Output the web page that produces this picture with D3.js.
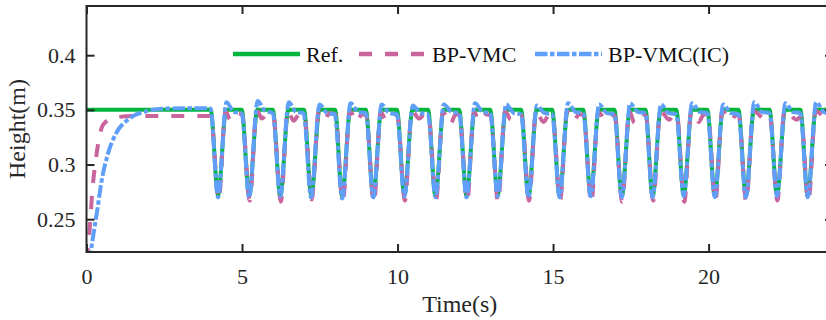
<!DOCTYPE html>
<html>
<head>
<meta charset="utf-8">
<script src="https://cdn.jsdelivr.net/npm/d3@7"></script>
<style>
  body { margin: 0; background: #fff; }
  svg { display: block; }
  text { font-family: "Liberation Serif", serif; }
</style>
</head>
<body>
<svg id="chart"></svg>
<script>
const xTicks = [0, 5, 10, 15, 20];
const yTicks = [0.25, 0.3, 0.35, 0.4];
const seriesNames = ["Ref.", "BP-VMC", "BP-VMC(IC)"];

// reference height, [time, height]
const refPoints = [
    [0, 0.35], [3.99, 0.35], [4.23, 0.272], [4.49, 0.35],
    [4.99, 0.35], [5.23, 0.271], [5.49, 0.35],
    [5.99, 0.35], [6.23, 0.271], [6.49, 0.35],
    [6.99, 0.35], [7.23, 0.272], [7.49, 0.35],
    [7.99, 0.35], [8.22, 0.271], [8.48, 0.35],
    [8.98, 0.35], [9.22, 0.271], [9.48, 0.35],
    [9.98, 0.35], [10.22, 0.272], [10.48, 0.35],
    [10.98, 0.35], [11.22, 0.271], [11.48, 0.35],
    [11.98, 0.35], [12.22, 0.271], [12.48, 0.35],
    [12.98, 0.35], [13.22, 0.272], [13.48, 0.35],
    [13.97, 0.35], [14.21, 0.271], [14.47, 0.35],
    [14.97, 0.35], [15.21, 0.271], [15.47, 0.35],
    [15.97, 0.35], [16.21, 0.272], [16.47, 0.35],
    [16.97, 0.35], [17.21, 0.271], [17.47, 0.35],
    [17.97, 0.35], [18.2, 0.271], [18.46, 0.35],
    [18.96, 0.35], [19.2, 0.272], [19.46, 0.35],
    [19.96, 0.35], [20.2, 0.271], [20.46, 0.35],
    [20.96, 0.35], [21.2, 0.271], [21.46, 0.35],
    [21.96, 0.35], [22.2, 0.272], [22.46, 0.35],
    [22.95, 0.35], [23.19, 0.271], [23.45, 0.35],
    [24, 0.35]
];

// BP-VMC
const bpPoints = [
    [0, 0.212], [0.06, 0.2265], [0.13, 0.252], [0.19, 0.277], [0.29, 0.302],
    [0.39, 0.322], [0.55, 0.337], [0.9, 0.343], [1.5, 0.3443], [3.97, 0.3443],
    [4.01, 0.343], [4.25, 0.268], [4.47, 0.349], [4.62, 0.341], [4.8, 0.347],
    [5.0, 0.346], [5.25, 0.267], [5.47, 0.35], [5.64, 0.342], [5.82, 0.347],
    [6.0, 0.346], [6.25, 0.266], [6.47, 0.349], [6.66, 0.34], [6.84, 0.346],
    [7.0, 0.345], [7.24, 0.268], [7.47, 0.349], [7.64, 0.341], [7.82, 0.347],
    [8.0, 0.346], [8.24, 0.266], [8.47, 0.349], [8.68, 0.339], [8.86, 0.346],
    [8.99, 0.345], [9.24, 0.265], [9.46, 0.348], [9.62, 0.341], [9.82, 0.346],
    [9.99, 0.345], [10.24, 0.267], [10.46, 0.349], [10.7, 0.342], [10.86, 0.346],
    [10.99, 0.345], [11.24, 0.268], [11.46, 0.348], [11.7, 0.337], [11.87, 0.346],
    [11.99, 0.345], [12.24, 0.267], [12.46, 0.349], [12.6, 0.34], [12.8, 0.346],
    [12.99, 0.345], [13.23, 0.266], [13.46, 0.349], [13.64, 0.341], [13.82, 0.346],
    [13.99, 0.345], [14.23, 0.267], [14.45, 0.348], [14.7, 0.339], [14.86, 0.345],
    [14.98, 0.345], [15.23, 0.268], [15.45, 0.349], [15.66, 0.34], [15.84, 0.346],
    [15.98, 0.345], [16.23, 0.265], [16.45, 0.348], [16.72, 0.34], [16.87, 0.345],
    [16.98, 0.345], [17.22, 0.266], [17.45, 0.349], [17.62, 0.338], [17.82, 0.346],
    [17.98, 0.345], [18.22, 0.267], [18.45, 0.349], [18.74, 0.341], [18.87, 0.345],
    [18.98, 0.345], [19.22, 0.266], [19.44, 0.348], [19.68, 0.339], [19.85, 0.346],
    [19.98, 0.345], [20.22, 0.267], [20.44, 0.349], [20.72, 0.34], [20.87, 0.345],
    [20.97, 0.345], [21.21, 0.266], [21.44, 0.349], [21.84, 0.341],
    [21.97, 0.344], [22.21, 0.267], [22.44, 0.349], [22.84, 0.341],
    [22.97, 0.344], [23.21, 0.266], [23.44, 0.349], [23.84, 0.341], [23.98, 0.344]
];

// BP-VMC(IC)
const icPoints = [
    [0, 0.19], [0.16, 0.2245], [0.35, 0.259], [0.48, 0.284], [0.68, 0.309],
    [0.96, 0.329], [1.38, 0.342], [1.96, 0.349], [2.6, 0.3512], [3.95, 0.3515],
    [3.99, 0.351], [4.23, 0.27], [4.5, 0.357], [4.74, 0.348],
    [4.99, 0.347], [5.23, 0.27], [5.5, 0.358], [5.74, 0.349],
    [5.99, 0.347], [6.23, 0.271], [6.5, 0.357], [6.74, 0.348],
    [6.98, 0.347], [7.22, 0.27], [7.49, 0.355], [7.74, 0.347],
    [7.98, 0.346], [8.22, 0.269], [8.49, 0.356], [8.74, 0.348],
    [8.98, 0.347], [9.22, 0.27], [9.49, 0.355], [9.74, 0.347],
    [9.98, 0.346], [10.22, 0.271], [10.49, 0.354], [10.74, 0.347],
    [10.98, 0.346], [11.22, 0.27], [11.49, 0.355], [11.74, 0.348],
    [11.98, 0.347], [12.22, 0.27], [12.49, 0.356], [12.74, 0.348],
    [12.98, 0.347], [13.22, 0.271], [13.49, 0.355], [13.74, 0.347],
    [13.97, 0.346], [14.21, 0.27], [14.48, 0.354], [14.73, 0.347],
    [14.97, 0.346], [15.21, 0.27], [15.48, 0.356], [15.73, 0.348],
    [15.97, 0.347], [16.21, 0.271], [16.48, 0.355], [16.73, 0.347],
    [16.97, 0.346], [17.21, 0.27], [17.48, 0.356], [17.73, 0.348],
    [17.97, 0.347], [18.2, 0.27], [18.47, 0.355], [18.72, 0.347],
    [18.96, 0.346], [19.2, 0.271], [19.47, 0.356], [19.72, 0.348],
    [19.96, 0.347], [20.2, 0.27], [20.47, 0.355], [20.72, 0.347],
    [20.96, 0.346], [21.2, 0.27], [21.47, 0.357], [21.72, 0.348],
    [21.96, 0.347], [22.2, 0.271], [22.47, 0.356], [22.72, 0.348],
    [22.95, 0.347], [23.19, 0.27], [23.46, 0.357], [23.71, 0.348], [23.98, 0.346]
];

const width = 826;
const height = 320;
const plot = {left: 86.5, right: 833, top: 6, bottom: 252};
const axisColor = "#262626";
const fontFamily = "Liberation Serif, serif";

const svg = d3.select("#chart")
    .attr("width", width)
    .attr("height", height)
    .attr("font-family", fontFamily);

const x = d3.scaleLinear()
    .domain([0, 24])
    .range([plot.left, plot.right]);

const y = d3.scaleLinear()
    .domain([0.22, 0.445])
    .range([plot.bottom, plot.top]);

svg.append("clipPath")
    .attr("id", "plotClip")
    .append("rect")
        .attr("x", plot.left)
        .attr("y", plot.top)
        .attr("width", plot.right - plot.left)
        .attr("height", plot.bottom - plot.top);

const series = [
    {name: seriesNames[0], points: refPoints, color: "#00b53c", dash: null},
    {name: seriesNames[1], points: bpPoints, color: "#c9649c", dash: "13,13"},
    {name: seriesNames[2], points: icPoints, color: "#5f9ffa", dash: "12.5,2.5,4.5,2.5"}
];

const line = d3.line()
    .x(d => x(d[0]))
    .y(d => y(d[1]))
    .curve(d3.curveMonotoneX);

svg.append("g")
    .attr("clip-path", "url(#plotClip)")
    .selectAll("path")
    .data(series)
    .join("path")
        .attr("d", d => line(d.points))
        .attr("fill", "none")
        .attr("stroke", d => d.color)
        .attr("stroke-width", 4)
        .attr("stroke-dasharray", d => d.dash);

// axes with inward ticks
function styleAxis(g) {
    g.attr("font-family", fontFamily).attr("font-size", 22);
    g.select(".domain").remove();
    g.selectAll(".tick line").attr("stroke", axisColor).attr("stroke-width", 2);
    g.selectAll(".tick text").attr("fill", axisColor);
}

svg.append("g")
    .attr("transform", "translate(0," + plot.bottom + ")")
    .call(d3.axisBottom(x).tickValues(xTicks).tickSizeInner(-8).tickSizeOuter(0).tickPadding(16))
    .call(styleAxis);

svg.append("g")
    .attr("transform", "translate(0," + plot.top + ")")
    .call(d3.axisTop(x).tickValues(xTicks).tickSizeInner(-8).tickSizeOuter(0).tickFormat(""))
    .call(styleAxis);

svg.append("g")
    .attr("transform", "translate(" + plot.left + ",0)")
    .call(d3.axisLeft(y).tickValues(yTicks).tickSizeInner(-8).tickSizeOuter(0).tickPadding(11).tickFormat(d => String(d)))
    .call(styleAxis);

svg.append("g")
    .attr("transform", "translate(" + plot.right + ",0)")
    .call(d3.axisRight(y).tickValues(yTicks).tickSizeInner(-8).tickSizeOuter(0).tickFormat(""))
    .call(styleAxis);

svg.append("rect")
    .attr("x", plot.left)
    .attr("y", plot.top)
    .attr("width", plot.right - plot.left)
    .attr("height", plot.bottom - plot.top)
    .attr("fill", "none")
    .attr("stroke", axisColor)
    .attr("stroke-width", 2);

// legend
const legendX = [233, 359, 535];
const legend = svg.append("g")
    .selectAll("g")
    .data(series)
    .join("g")
        .attr("transform", (d, i) => "translate(" + legendX[i] + ",54)");

legend.append("line")
    .attr("x1", 0)
    .attr("x2", 67)
    .attr("stroke", d => d.color)
    .attr("stroke-width", 4.5)
    .attr("stroke-dasharray", d => d.dash);

legend.append("text")
    .attr("x", 73)
    .attr("y", 8)
    .attr("fill", "#111")
    .attr("font-size", 22)
    .text(d => d.name);

svg.append("text")
    .attr("x", (plot.left + plot.right) / 2)
    .attr("y", 312)
    .attr("text-anchor", "middle")
    .attr("fill", axisColor)
    .attr("font-size", 24)
    .text("Time(s)");

svg.append("text")
    .attr("transform", "translate(25," + (plot.top + plot.bottom) / 2 + ")rotate(-90)")
    .attr("text-anchor", "middle")
    .attr("fill", axisColor)
    .attr("font-size", 24)
    .text("Height(m)");
</script>
</body>
</html>
